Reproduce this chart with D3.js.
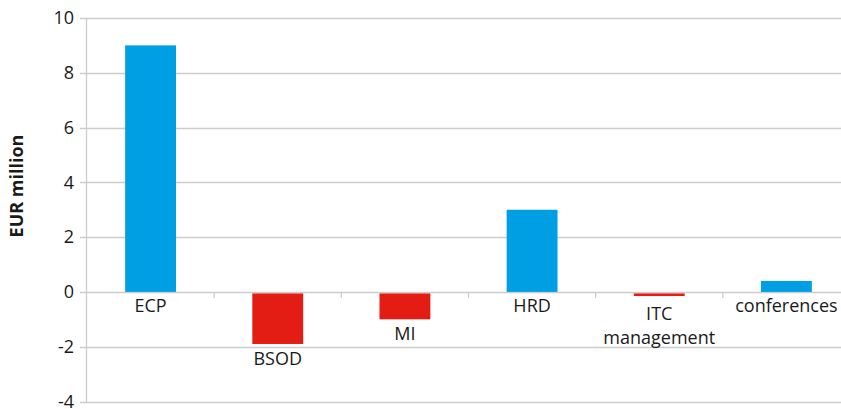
<!DOCTYPE html>
<html><head><meta charset="utf-8">
<script src="https://cdn.jsdelivr.net/npm/d3@7"></script>
<style>body{margin:0;background:#fff}svg{display:block;font-family:"Open Sans",sans-serif}</style>
</head><body><svg id="c" width="841" height="409"></svg>
<script>
const categories = ["ECP", "BSOD", "MI", "HRD", "ITC\nmanagement", "conferences"];
const values = [9.0, -1.9, -1.0, 3.0, -0.15, 0.4];
const yTicks = [-4, -2, 0, 2, 4, 6, 8, 10];
const yTitle = "EUR million";

const svg = d3.select("#c");
const m = {left: 87, top: 18, right: 850, bottom: 401.5};
const x = d3.scaleBand().domain(categories).range([m.left, m.right]).paddingInner(0.6).paddingOuter(0.3);
const y = d3.scaleLinear().domain([-4, 10]).range([m.bottom, m.top]);

// gridlines
svg.append("g").selectAll("line").data(yTicks).join("line")
  .attr("x1", m.left - 7).attr("x2", 841)
  .attr("y1", d => Math.round(y(d)) + 0.5).attr("y2", d => Math.round(y(d)) + 0.5)
  .attr("stroke", "#cccccc").attr("stroke-width", 1.3);

// y axis line
svg.append("line").attr("x1", m.left - 0.5).attr("x2", m.left - 0.5)
  .attr("y1", m.top).attr("y2", m.bottom + 1).attr("stroke", "#cccccc").attr("stroke-width", 1.3);

// category ticks on zero line
const step = x.step();
const bounds = d3.range(1, categories.length).map(i => m.left + x.paddingOuter() * step - x.paddingInner() * step / 2 + i * step);
svg.append("g").selectAll("line").data(bounds).join("line")
  .attr("x1", d => d).attr("x2", d => d)
  .attr("y1", y(0)).attr("y2", y(0) + 6).attr("stroke", "#cccccc").attr("stroke-width", 1.3);

// y tick labels
svg.append("g").selectAll("text").data(yTicks).join("text")
  .attr("x", 74).attr("y", d => y(d)).attr("dy", "0.35em")
  .attr("text-anchor", "end").attr("font-size", 18).attr("fill", "#1a1a1a")
  .text(d => d);

// bars
svg.append("g").selectAll("rect").data(values).join("rect")
  .attr("x", (d, i) => x(categories[i]))
  .attr("width", x.bandwidth())
  .attr("y", d => d >= 0 ? y(d) : y(0) + 1.5)
  .attr("height", d => d >= 0 ? y(0) - y(d) : y(d) - y(0) - 1.5)
  .attr("fill", d => d >= 0 ? "#009fe3" : "#e31d13");

// category labels
const lbl = svg.append("g").selectAll("text").data(categories).join("text")
  .attr("text-anchor", "middle").attr("font-size", 18).attr("fill", "#1a1a1a")
  .attr("transform", (c, i) => {
    const base = Math.max(y(0), y(values[i]));
    const off = c.includes("\n") ? 24 : (values[i] < 0 ? 21 : 20);
    return `translate(${x(c) + x.bandwidth() / 2},${base + off})`;
  });
lbl.selectAll("tspan").data(c => c.split("\n")).join("tspan")
  .attr("x", 0).attr("dy", (d, i) => i === 0 ? 0 : "1.35em").text(d => d);

// y title
svg.append("text").attr("transform", "translate(23,186) rotate(-90)")
  .attr("text-anchor", "middle").attr("font-size", 18).attr("font-weight", "bold").attr("fill", "#1a1a1a")
  .text(yTitle);
</script></body></html>
